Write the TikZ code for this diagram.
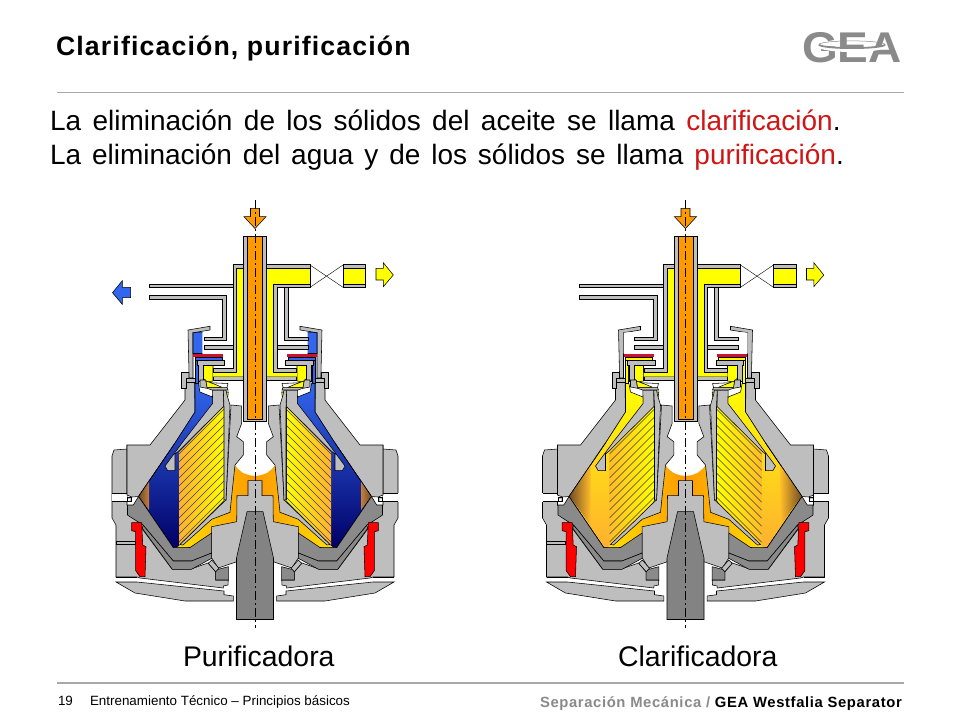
\documentclass[tikz,border=0pt]{standalone}
\usepackage{fontspec}
\setmainfont{Liberation Sans}
\definecolor{gl}{HTML}{BEBEBE}
\definecolor{gd}{HTML}{8A8A8A}
\definecolor{oil}{HTML}{FF9900}
\definecolor{yel}{HTML}{FFFF00}
\definecolor{blu}{HTML}{3366EE}
\definecolor{seal}{HTML}{FF0000}
\definecolor{bar}{HTML}{D01030}
\definecolor{rul}{HTML}{A8A8A8}
\definecolor{redword}{HTML}{D01515}
\definecolor{logogrey}{HTML}{8A8A8A}
\definecolor{softoil}{HTML}{FFB030}
\definecolor{midoil}{HTML}{FFBC28}
\tikzset{
 part/.style={draw=black,line width=.55pt,miter limit=4},
 lite/.style={part,fill=gl},
 dark/.style={part,fill=gd},
 sidea/.style={inout/.style 2 args={left color=##1,right color=##2}},
 sideb/.style={inout/.style 2 args={left color=##2,right color=##1}},
 txt/.style={anchor=base west,inner sep=0pt,outer sep=0pt},
 hatch/.style={draw=black!85!yellow,line width=.55pt},
 centre/.style={draw=black,line width=.6pt,dash pattern=on 9pt off 3pt on 2pt off 3pt},
}
\newcommand{\halfbody}{%
 % casing
 \draw[lite] (128,445)--(128,449)--(141,450)--(143,456)--(143,518)--(139,525)--(139,577)--(118,577)--(115,578)--(31.7,588)--(31.7,586)--(27,585)--(26.7,580)--(39.3,580)--(39.3,572)--(47,563)--(64,569)--(83,569)--(112,530)--(128,505)--cycle;
 \draw[part] (118,577)--(139,577);
 \draw[lite] (21.7,596)--(31,594.7)--(31,591)--(118,582)--(139,582)--(120,593)--(70,601)--(21.7,601)--cycle;
 \fill[white] (128,493.3) rectangle (143.5,501.7);
 \draw[part] (128,493.3)--(143,493.3) (128,501.7)--(143,501.7);
 % cone wall
 \draw[lite] (60.5,382)--(69,382)--(70,388)--(70,400)--(105,445)--(128,445)--(128,495)--(123,497)--(116.5,496.5)--(80,443)--(60,412)--cycle;
 % collar and hood
 \draw[lite] (66,372.7)--(73.3,372.7)--(73.3,388.3)--(69,388.3)--(69,378)--(66,378)--cycle;
 \draw[lite] (59.3,378)--(69,378)--(69,382.7)--(59.3,382.7)--cycle;
 \draw[lite] (45,326.3)--(67,330)--(66,373)--(66,378)--(62,378)--(62,332.7)--(45,330)--cycle;
 % bowl interior
 \draw[part,bowlfill] (42.3,403)--(42.5,397)--(55,392)--(56.7,383)--(60,383)--(60,412)--(80,443)--(116.5,496.5)--(81.7,547.7)--(65,547.5)--(43,526)--(31,500)--(31,406)--cycle;
 \path[tipfill] (\tipx,\tipa)--(116,496.5)--(\tipx,\tipb)--cycle;
 \draw[part] (80,443)--(116.5,496.5)--(81.7,547.7);
 % oil above the hub
 \path[inout={oil}{yel!70!oil}] (0,476)--(6,475.2)--(12,473)--(17,469)--(21,464)--(25,480)--(28,512)--(44,519)--(78,547.5)--(65,547.5)--(43.3,533)--(43.3,526.7)--(18.3,521.7)--(18,495.7)--(7,495.7)--(7,480.7)--(0,480.7)--cycle;
 % disc stack
 \path[stackfill] (31,406.5)--(76,452.5)--(76,545)--(31,500)--cycle;
 \begin{scope}
  \clip (31,406.5)--(76,452.5)--(76,545)--(31,500)--cycle;
  \foreach \c in {378,386,...,472}{\draw[hatch] (25,\c+25)--(80,\c+80);}
 \end{scope}
 \draw[part] (31,406.5)--(31,500);
 % top plate
 \draw[lite] (31.7,390)--(42.7,390)--(42.3,403.3)--(70.7,440)--(90,466)--(87.3,470.7)--(80,470.7)--(80,454)--(76,450.7)--(31.7,406.7)--cycle;
 \draw[part,fill=yel] (26.7,392)--(31.7,392)--(31,407)--(28,403)--cycle;
 % inner sleeves and lower strip
 \draw[lite] (13.3,406)--(24,405)--(29,500)--(30,500.7)--(75,544.5)--(72,545)--(43.3,519.3)--(25,512.3)--(22.7,490)--(20,465)--(11.7,455)--(11.7,441.7)--(18.3,436.7)--(13.3,423.3)--cycle;
 \draw[lite] (25,405)--(28,395)--(29,390)--(31.7,390)--(31,407)--(31,500)--(29,500)--cycle;
 % hub
 \draw[lite] (-.4,480.7)--(7,480.7)--(7,495.7)--(18,495.7)--(18.3,521.7)--(43.3,526.7)--(43.3,558)--(36.7,568)--(18.3,561.7)--(-.4,561.7);
 \draw[dark] (26.7,566.7)--(39.3,570)--(39.3,580)--(26.7,580)--cycle;
 \draw[lite] (36,568.3)--(43.3,560)--(46.7,563.3)--(39.3,571.7)--cycle;
 % dark bowl bands
 \draw[dark] (43.3,533)--(65,547.5)--(81.7,547.7)--(116.5,496.5)--(121.7,505)--(127.5,505)--(127.5,515)--(123,518)--(112,525)--(81.7,561)--(63.5,561)--(43.3,553)--cycle;
 \draw[dark] (43.3,553)--(63.5,561)--(81.7,561)--(112,525)--(112.7,528.3)--(82.7,569.3)--(63.5,569.3)--(43.3,558.3)--cycle;
 \draw[part,fill=gl] (123.3,497.3) rectangle (127.3,501.7);
 \fill[white] (124.6,498.6) rectangle (127,501.3);
 % red seal
 \draw[part,fill=seal] (113.3,522.7)--(123.3,522.7)--(123.3,530.7)--(119.3,531.7)--(119.3,570.7)--(115,576.7)--(110,576.7)--(109,546.7)--(112.3,545)--cycle;
 % neck
 \draw[part,upperfluid] (52.7,332)--(62,332.7)--(62,353.5)--(52.7,353.5);
 \draw[part,lowerfluid] (33,357.3)--(60,357.3)--(60,360.7)--(33,360.7)--cycle;
 \draw[part,lowerfluid] (57,360.7)--(60,360.7)--(60,383)--(57,383)--cycle;
 \fill[bar] (31.7,353.5) rectangle (61.7,357.3);
 \draw[part,fill=yel] (42,365)--(52,365)--(52,378)--(48,382)--(42,381)--cycle;
 \draw[lite] (30.7,360.7)--(58,360.7)--(58,365)--(56.7,365)--(56.7,381)--(51.7,381)--(51.7,365)--(30.7,365)--cycle;
 \draw[lite] (49.3,380)--(55,380)--(55,387)--(48,388.3)--(42.7,390)--(27,390)--(28,387.3)--(48,387.3)--cycle;
 \draw[part,fill=yel] (33,387.3)--(42,383.5)--(49,381)--(48,387.3)--cycle;
 \draw[part] (27,383.5)--(45,382.7) (27,383.5)--(28,387.3);
 % lower bars of the yellow tube
 \draw[lite] (41.7,376.7)--(11.5,376.7)--(11.5,380.7)--(41.7,380.7)--cycle;
}
\newcommand{\topparts}{%
 % yellow chamber
 \path[fill=yel] (-18.5,268.7)--(55,268.7)--(55,284)--(18.5,284)--(18.5,372.7)--(42,372.7)--(42,376.7)--(-42,376.7)--(-42,372.7)--(-18.5,372.7)--cycle;
 \draw[lite] (-22,264.7)--(-11.5,264.7)--(-11.5,268.7)--(-18.5,268.7)--(-18.5,372.7)--(-41.7,372.7)--(-41.7,368.3)--(-22,368.3)--cycle;
 \draw[lite] (11.5,264.7)--(55,264.7)--(55,268.7)--(11.5,268.7)--cycle;
 \draw[lite] (55,284)--(55,287.5)--(22,287.5)--(22,368.3)--(41.7,368.3)--(41.7,372.7)--(18.5,372.7)--(18.5,284)--cycle;
 \draw[part] (55,268.7)--(55,284);
 % pipes
 \draw[lite] (-106,284)--(-22,284)--(-22,287.7)--(-106,287.7)--cycle;
 \draw[lite] (-106,295.7)--(-28.7,295.7)--(-28.7,340.7)--(-51,340.7)--(-51,337)--(-32.7,337)--(-32.7,299.3)--(-106,299.3)--cycle;
 \draw[lite] (-51,345.3)--(-22,345.3)--(-22,349.3)--(-51,349.3)--cycle;
 \draw[lite] (29,287.5)--(33,287.5)--(33,337)--(53,337)--(53,340.7)--(29,340.7)--cycle;
 \draw[lite] (22,345.3)--(53,345.3)--(53,349.2)--(22,349.2)--cycle;
 % valve and outlet
 \draw[part,line width=.4pt] (55,265)--(88,287.3) (55,287.3)--(88,265);
 \draw[part,fill=yel] (88,268.7) rectangle (110.3,284);
 \draw[lite] (88,264.7) rectangle (110.3,268.7);
 \draw[lite] (88,284) rectangle (110.3,287.5);
 % feed tube
 \draw[lite] (-11.5,236.7) rectangle (11.5,421.7);
 \draw[part,fill=oil] (-7.5,236.7) rectangle (7.5,419.3);
 % spindle
 \draw[part,fill=gd!95!black] (-8,511.7)--(8,511.7)--(18.5,558)--(18.5,619.5)--(-18.5,619.5)--(-18.5,558)--cycle;
 % arrows
 \draw[part,fill=oil] (-4.5,208.3)--(4.5,208.3)--(4.5,216.7)--(11,216.7)--(0,228.5)--(-11,216.7)--(-4.5,216.7)--cycle;
 \draw[part,fill=yel] (121,268.3)--(128.3,268.3)--(128.3,262.7)--(138.3,275)--(128.3,286.7)--(128.3,280)--(121,280)--cycle;
 % axis
 \draw[centre] (0,200)--(0,628);
}
\begin{document}
\begin{tikzpicture}[x=1pt,y=-1pt]
\useasboundingbox (0,0) rectangle (960,720);
\fill[white] (0,0) rectangle (960,720);
% ---------- Purifier
\begin{scope}[shift={(255,0)},
  bowlfill/.style={top color=blu,middle color=blu!85!black,bottom color=blue!40!black},
  upperfluid/.style={fill=blu}, lowerfluid/.style={fill=blu},
  stackfill/.style={inout={yel}{softoil}},
  tipfill/.style={inout={brown!90!orange}{brown!60!black}}]
 \def\tipx{106}\def\tipa{481}\def\tipb{510}
 \begin{scope}[sidea]\halfbody\end{scope}
 \begin{scope}[xscale=-1,sideb]\halfbody\end{scope}
 \draw[lite] (-139,541.7) rectangle (-120,544.3);
 \topparts
 \draw[part,fill=blu] (-142.5,292.7)--(-132.7,280.7)--(-132.7,287.3)--(-124.3,287.3)--(-124.3,297.7)--(-132.7,297.7)--(-132.7,304.3)--cycle;
\end{scope}
% ---------- Clarifier
\begin{scope}[shift={(685.5,0)},
  bowlfill/.style={top color=yel,middle color=midoil,bottom color=softoil},
  upperfluid/.style={fill=white,draw=none}, lowerfluid/.style={fill=yel},
  stackfill/.style={inout={yel}{midoil}},
  tipfill/.style={inout={midoil}{brown!60!black}}]
 \def\tipx{95}\def\tipa{465}\def\tipb{525}
 \begin{scope}[sidea]\halfbody\end{scope}
 \begin{scope}[xscale=-1,sideb]\halfbody\end{scope}
 \draw[lite] (-139,541.7) rectangle (-120,544.3);
 \topparts
\end{scope}
% ---------- Text and rules
\node[txt] (title) at (56,55) {\fontsize{26.67}{28}\selectfont\bfseries\addfontfeature{LetterSpace=4.3}Clarificación, purificación};
\draw[rul,line width=1.2pt] (57,92.5)--(904,92.5);
\node[txt] (l1) at (50,130) {\fontsize{28}{30}\selectfont\spaceskip=11.4pt La eliminación de los sólidos del aceite se llama \textcolor{redword}{clarificación}.};
\node[txt] (l2) at (50,164) {\fontsize{28}{30}\selectfont\spaceskip=10.9pt La eliminación del agua y de los sólidos se llama \textcolor{redword}{purificación}.};
\node[txt] (p) at (183,666) {\fontsize{28.4}{30}\selectfont Purificadora};
\node[txt] (c) at (618,666) {\fontsize{28.4}{30}\selectfont Clarificadora};
\draw[rul,line width=1.2pt] (57,683)--(904,683);
\node[txt] (n) at (58,705) {\fontsize{13.4}{15}\selectfont 19};
\node[txt] (f) at (90,705) {\fontsize{13.4}{15}\selectfont Entrenamiento Técnico – Principios básicos};
\node[txt] (s) at (540,707) {\fontsize{14.8}{16}\selectfont\bfseries\addfontfeature{LetterSpace=4.3}\textcolor{logogrey}{Separación Mecánica /} GEA Westfalia Separator};
% ---------- Logo
\node[txt,text=logogrey,xscale=1.07] (logo) at (802,62) {\fontsize{43}{44}\selectfont\bfseries GEA};
\draw[white,line width=3pt] (819,45.5) arc[x radius=33,y radius=5,start angle=180,end angle=0];
\draw[logogrey,line width=1.8pt] (819,44.5) arc[x radius=33,y radius=3.6,start angle=180,end angle=0];
\draw[logogrey,line width=.5pt] (819,44.5) arc[x radius=33,y radius=3.6,start angle=180,end angle=360];
\end{tikzpicture}
\end{document}
